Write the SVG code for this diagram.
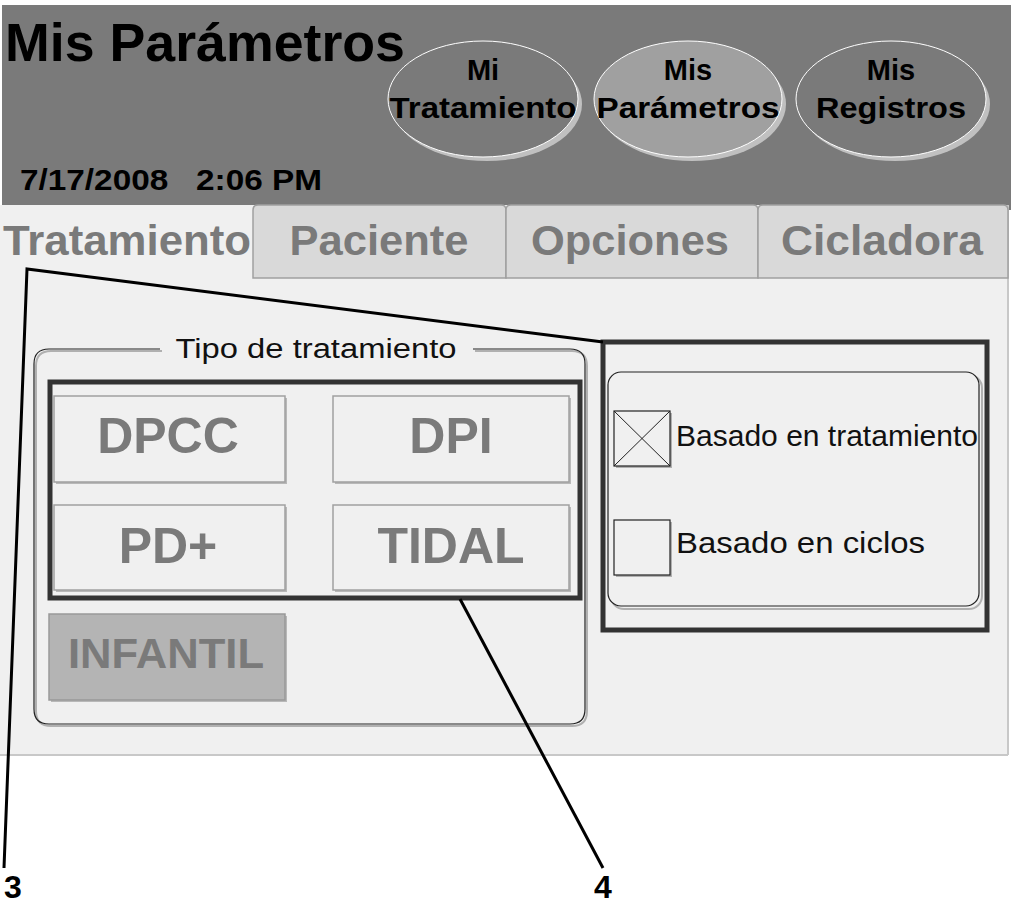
<svg xmlns="http://www.w3.org/2000/svg" width="1011" height="903" viewBox="0 0 1011 903">
<style>
.b{font-family:"Liberation Sans",Arial,sans-serif;font-weight:bold}
.r{font-family:"Liberation Sans",Arial,sans-serif}
.nav{font-size:29px;fill:#000;text-anchor:middle}
.tab{font-size:42px;fill:#7a7a7a;text-anchor:middle}
.btn{fill:#f0f0f0;stroke:#a0a0a0;stroke-width:1.5}
.btxt{font-size:50px;fill:#7a7a7a;text-anchor:middle}
.hl{fill:none;stroke:#333;stroke-width:5}
.lead{fill:none;stroke:#000;stroke-width:3}
.shadow{fill:#b8b8b8}
</style>
<rect x="0" y="0" width="1011" height="903" fill="#fff"/>
<g id="header">
<rect x="2" y="5" width="1009" height="205" fill="#7a7a7a"/>
<text class="b" x="5" y="61" font-size="54" textLength="400" lengthAdjust="spacingAndGlyphs">Mis Parámetros</text>
<text class="b" x="20" y="190" font-size="30" textLength="302" lengthAdjust="spacingAndGlyphs" xml:space="preserve">7/17/2008   2:06 PM</text>
</g>
<g id="nav-mi-tratamiento">
<ellipse cx="487" cy="104" rx="95" ry="57" fill="#c0c0c0"/>
<ellipse cx="483" cy="99" rx="95" ry="58" fill="#7a7a7a" stroke="#fff" stroke-width="1"/>
<text class="b nav" x="483" y="80">Mi</text>
<text class="b nav" x="483" y="118" textLength="187" lengthAdjust="spacingAndGlyphs">Tratamiento</text>
</g>
<g id="nav-mis-parametros">
<ellipse cx="692" cy="104" rx="94" ry="57" fill="#c0c0c0"/>
<ellipse cx="688" cy="99" rx="94" ry="58" fill="#a0a0a0" stroke="#fff" stroke-width="1"/>
<text class="b nav" x="688" y="80">Mis</text>
<text class="b nav" x="688" y="118" textLength="183" lengthAdjust="spacingAndGlyphs">Parámetros</text>
</g>
<g id="nav-mis-registros">
<ellipse cx="895" cy="104" rx="95" ry="57" fill="#c0c0c0"/>
<ellipse cx="891" cy="99" rx="95" ry="58" fill="#7a7a7a" stroke="#fff" stroke-width="1"/>
<text class="b nav" x="891" y="80">Mis</text>
<text class="b nav" x="891" y="118" textLength="150" lengthAdjust="spacingAndGlyphs">Registros</text>
</g>
<g id="panel">
<rect x="0" y="205" width="1008" height="550" fill="#f0f0f0"/>
<line x1="0" y1="755" x2="1008" y2="755" stroke="#c8c8c8" stroke-width="2"/>
<line x1="1008" y1="205" x2="1008" y2="755" stroke="#c8c8c8" stroke-width="2"/>
</g>
<g id="tab-tratamiento">
<path d="M0 278 V210 Q0 205 5 205 H248 Q253 205 253 210 V278" fill="#f0f0f0"/>
<text class="b tab" x="127" y="255" textLength="248" lengthAdjust="spacingAndGlyphs">Tratamiento</text>
</g>
<g id="tab-paciente">
<path d="M253 278 V210 Q253 205 258 205 H501 Q506 205 506 210 V278 Z" fill="#d9d9d9" stroke="#a0a0a0" stroke-width="1.5"/>
<text class="b tab" x="379" y="255" textLength="179" lengthAdjust="spacingAndGlyphs">Paciente</text>
</g>
<g id="tab-opciones">
<path d="M506 278 V210 Q506 205 511 205 H753 Q758 205 758 210 V278 Z" fill="#d9d9d9" stroke="#a0a0a0" stroke-width="1.5"/>
<text class="b tab" x="630" y="255" textLength="198" lengthAdjust="spacingAndGlyphs">Opciones</text>
</g>
<g id="tab-cicladora">
<path d="M758 278 V210 Q758 205 763 205 H1003 Q1008 205 1008 210 V278 Z" fill="#d9d9d9" stroke="#a0a0a0" stroke-width="1.5"/>
<text class="b tab" x="882" y="255" textLength="202" lengthAdjust="spacingAndGlyphs">Cicladora</text>
</g>
<g id="tipo-tratamiento">
<path d="M160 349 H49 Q34 349 34 364 V709 Q34 724 49 724 H570 Q585 724 585 709 V364 Q585 349 570 349 H473" fill="none" stroke="#b0b0b0" stroke-width="2" transform="translate(2,2)"/>
<path d="M160 349 H49 Q34 349 34 364 V709 Q34 724 49 724 H570 Q585 724 585 709 V364 Q585 349 570 349 H473" fill="none" stroke="#222" stroke-width="1.2"/>
<text class="r" x="316" y="358" font-size="27" text-anchor="middle" fill="#111" textLength="281" lengthAdjust="spacingAndGlyphs">Tipo de tratamiento</text>
</g>
<g id="btn-dpcc">
<rect x="56" y="398" width="231" height="86" class="shadow"/>
<rect x="54" y="396" width="231" height="86" class="btn"/>
<text class="b btxt" x="168" y="453">DPCC</text>
</g>
<g id="btn-dpi">
<rect x="335" y="398" width="236" height="86" class="shadow"/>
<rect x="333" y="396" width="236" height="86" class="btn"/>
<text class="b btxt" x="451" y="453">DPI</text>
</g>
<g id="btn-pdplus">
<rect x="56" y="507" width="231" height="85" class="shadow"/>
<rect x="54" y="505" width="231" height="85" class="btn"/>
<text class="b btxt" x="168" y="563">PD+</text>
</g>
<g id="btn-tidal">
<rect x="335" y="507" width="236" height="85" class="shadow"/>
<rect x="333" y="505" width="236" height="85" class="btn"/>
<text class="b btxt" x="451" y="563">TIDAL</text>
</g>
<g id="btn-infantil">
<rect x="51" y="616" width="236" height="86" class="shadow"/>
<rect x="49" y="614" width="236" height="86" fill="#b4b4b4" stroke="#999" stroke-width="1.5"/>
<text class="b" x="166" y="668" font-size="42" fill="#7a7a7a" text-anchor="middle" textLength="196" lengthAdjust="spacingAndGlyphs">INFANTIL</text>
</g>
<g id="highlight-4">
<rect x="50" y="382" width="530" height="216" class="hl"/>
</g>
<g id="basado-group">
<rect x="611" y="375" width="371" height="234" rx="13" fill="none" stroke="#b0b0b0" stroke-width="2"/>
<rect x="608" y="372" width="371" height="234" rx="13" fill="#f0f0f0" stroke="#222" stroke-width="1.2"/>
</g>
<g id="chk-tratamiento">
<rect x="616" y="413" width="56" height="55" fill="#b0b0b0"/>
<rect x="614" y="411" width="56" height="55" fill="#f0f0f0" stroke="#222" stroke-width="1.2"/>
<path d="M614 411 L670 466 M670 411 L614 466" stroke="#222" stroke-width="1"/>
<text class="r" x="676" y="446" font-size="30" fill="#111" textLength="302" lengthAdjust="spacingAndGlyphs">Basado en tratamiento</text>
</g>
<g id="chk-ciclos">
<rect x="616" y="522" width="56" height="55" fill="#b0b0b0"/>
<rect x="614" y="520" width="56" height="55" fill="#f0f0f0" stroke="#222" stroke-width="1.2"/>
<text class="r" x="676" y="553" font-size="30" fill="#111" textLength="249" lengthAdjust="spacingAndGlyphs">Basado en ciclos</text>
</g>
<g id="highlight-3">
<rect x="603" y="342" width="384" height="288" class="hl"/>
</g>
<g id="connectors">
<polyline class="lead" points="4,868 27,269 603,342"/>
<line class="lead" x1="460" y1="599" x2="603" y2="868"/>
</g>
<g id="label-3">
<text class="b" x="13" y="898" font-size="32" text-anchor="middle" fill="#000">3</text>
</g>
<g id="label-4">
<text class="b" x="603" y="898" font-size="32" text-anchor="middle" fill="#000">4</text>
</g>
</svg>
